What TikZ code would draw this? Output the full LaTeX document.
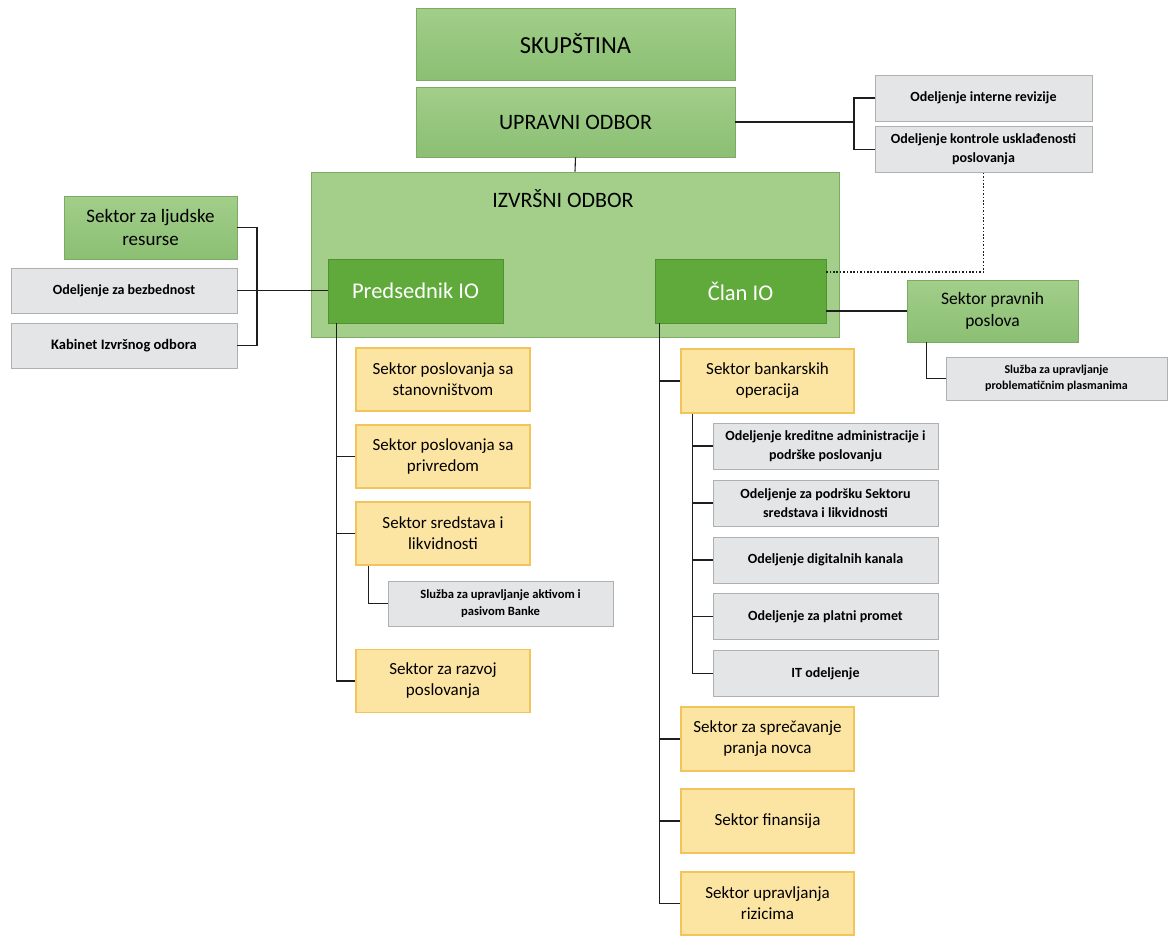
\documentclass[tikz,border=0pt]{standalone}
\usepackage{fontspec}
\setmainfont{Carlito}
\definecolor{gtop}{HTML}{A2CE8A}
\definecolor{gbot}{HTML}{8BBF73}
\definecolor{gborder}{HTML}{7BAA64}
\definecolor{iofill}{HTML}{A3CF8B}
\definecolor{dgreen}{HTML}{5FAA3B}
\definecolor{yfill}{HTML}{FCE4A2}
\definecolor{yborder}{HTML}{F3C35C}
\definecolor{grfill}{HTML}{E3E5E7}
\definecolor{grborder}{HTML}{AEB0B2}
\definecolor{lnc}{HTML}{1E1E1E}
\begin{document}
\begin{tikzpicture}[x=1pt,y=-1pt,
  base/.style={inner sep=0pt, align=center, text=black},
  gbox/.style={base, draw=gborder, line width=0.6pt, top color=gtop, bottom color=gbot},
  dbox/.style={base, draw=dgreen!85!black, line width=0.4pt, fill=dgreen, text=white, font=\fontsize{22.5}{26}\selectfont},
  ybox/.style={base, draw=yborder, line width=1.2pt, fill=yfill, minimum width=174pt, minimum height=63pt, font=\fontsize{17}{21}\selectfont},
  grbox/.style={base, draw=grborder, line width=0.6pt, fill=grfill, font=\bfseries\fontsize{14}{19}\selectfont},
  conn/.style={draw=lnc, line width=1.1pt},
  dotconn/.style={draw=lnc, line width=1.3pt, dash pattern=on 1.6pt off 1.8pt}
]
\useasboundingbox (0,0) rectangle (1168,937);
% top
\node[gbox, minimum width=319pt, minimum height=72pt, font=\fontsize{24.5}{28}\selectfont] (skup) at (575.5,44) {SKUPŠTINA};
\node[gbox, minimum width=319pt, minimum height=70pt, font=\fontsize{22}{26}\selectfont] (uo) at (575.5,122) {UPRAVNI ODBOR};
\node[base, draw=gborder, line width=0.6pt, fill=iofill, minimum width=528pt, minimum height=165pt] (io) at (575,254.5) {};
\node[base, font=\fontsize{22}{26}\selectfont] (iot) at (563,199) {IZVRŠNI ODBOR};
\node[dbox, minimum width=175pt, minimum height=64pt] (pred) at (415.5,291) {Predsednik IO};
\node[dbox, minimum width=171pt, minimum height=64pt] (clan) at (740.5,291) {Član IO};
% left
\node[gbox, minimum width=173pt, minimum height=63pt, font=\fontsize{19}{23}\selectfont] (ljud) at (150.5,227.5) {Sektor za ljudske\\resurse};
\node[grbox, minimum width=226pt, minimum height=45pt] (bezb) at (124,290.5) {Odeljenje za bezbednost};
\node[grbox, minimum width=226pt, minimum height=45pt, font=\bfseries\fontsize{14.5}{19}\selectfont] (kab) at (124,345.5) {Kabinet Izvršnog odbora};
% right top
\node[grbox, minimum width=217pt, minimum height=46pt] (rev) at (983.5,98) {Odeljenje interne revizije};
\node[grbox, minimum width=217pt, minimum height=46pt] (kon) at (983.5,149.5) {Odeljenje kontrole usklađenosti\\poslovanja};
\node[gbox, minimum width=171pt, minimum height=62pt, font=\fontsize{17.5}{22}\selectfont] (prav) at (992.5,311) {Sektor pravnih\\poslova};
\node[grbox, minimum width=221pt, minimum height=43pt, font=\bfseries\fontsize{12}{16}\selectfont] (sluz) at (1056.5,378.5) {Služba za upravljanje\\problematičnim plasmanima};
% left column
\node[ybox] (y1) at (443,379.5) {Sektor poslovanja sa\\stanovništvom};
\node[ybox] (y2) at (443,456.5) {Sektor poslovanja sa\\privredom};
\node[ybox] (y3) at (443,533.5) {Sektor sredstava i\\likvidnosti};
\node[ybox] (y4) at (443,681) {Sektor za razvoj\\poslovanja};
\node[grbox, minimum width=225pt, minimum height=45pt, font=\bfseries\fontsize{12.6}{17}\selectfont] (aktiv) at (500.5,603.5) {Služba za upravljanje aktivom i\\pasivom Banke};
% right column
\node[ybox, minimum width=173pt, minimum height=64pt] (bank) at (767.5,381) {Sektor bankarskih\\operacija};
\node[ybox, minimum width=173pt, minimum height=64pt] (prn) at (767.5,739) {Sektor za sprečavanje\\pranja novca};
\node[ybox, minimum width=173pt, minimum height=64pt] (fin) at (767.5,821) {Sektor finansija};
\node[ybox, minimum width=173pt, minimum height=63pt] (riz) at (767.5,903.5) {Sektor upravljanja\\rizicima};
\tikzset{gr2/.style={grbox, minimum width=225pt, minimum height=46pt}}
\node[gr2] (g1) at (825.5,446) {Odeljenje kreditne administracije i\\podrške poslovanju};
\node[gr2] (g2) at (825.5,503) {Odeljenje za podršku Sektoru\\sredstava i likvidnosti};
\node[gr2] (g3) at (825.5,560) {Odeljenje digitalnih kanala};
\node[gr2] (g4) at (825.5,616.5) {Odeljenje za platni promet};
\node[gr2] (g5) at (825.5,673.5) {IT odeljenje};
% connectors
\draw[conn] (uo.south) -- (io.north);
\coordinate (ubr) at (854,122);
\draw[conn] (uo.east) -- (ubr);
\draw[conn] (rev.west) -| (ubr);
\draw[conn] (kon.west) -| (ubr);
\draw[dotconn] (kon.south) |- ([yshift=19pt]clan.east);
\draw[conn] (prav.west) -- (prav.west -| clan.east);
\draw[conn] ([xshift=20pt]prav.south west) |- (sluz.west);
\coordinate (lb) at (257,290.5);
\draw[conn] (ljud.east) -| (lb);
\draw[conn] (kab.east) -| (lb);
\draw[conn] (bezb.east) -- (bezb.east -| pred.west);
\draw[conn] ([xshift=9pt]pred.south west) |- (y4.west);
\draw[conn] (y2.west) -- ++(-19,0);
\draw[conn] (y3.west) -- ++(-19,0);
\draw[conn] ([xshift=13pt]y3.south west) |- (aktiv.west);
\draw[conn] ([xshift=5pt]clan.south west) |- (riz.west);
\draw[conn] (bank.west) -- ++(-21,0);
\draw[conn] (prn.west) -- ++(-21,0);
\draw[conn] (fin.west) -- ++(-21,0);
\draw[conn] ([xshift=12pt]bank.south west) |- (g5.west);
\draw[conn] (g1.west) -- ++(-20,0);
\draw[conn] (g2.west) -- ++(-20,0);
\draw[conn] (g3.west) -- ++(-20,0);
\draw[conn] (g4.west) -- ++(-20,0);
\end{tikzpicture}
\end{document}
